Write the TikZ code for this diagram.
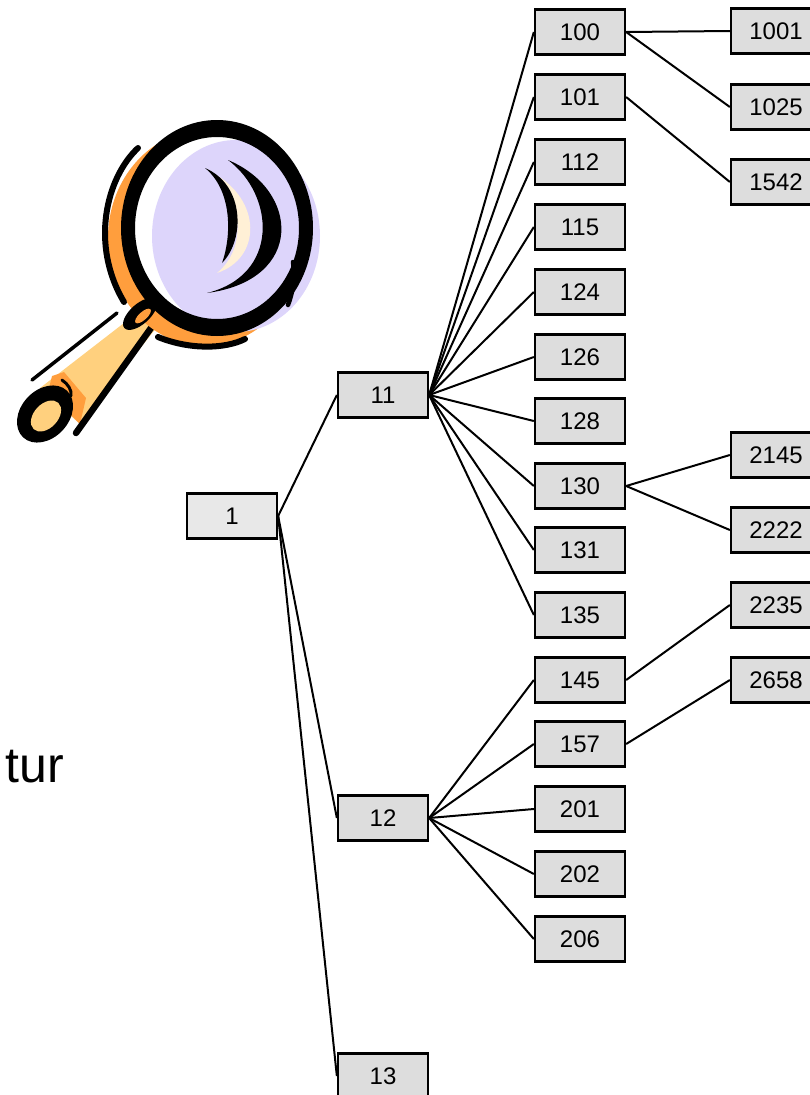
\documentclass[tikz,border=0pt]{standalone}
\usepackage{fontspec}
\setmainfont{Liberation Sans}
\definecolor{boxgray}{HTML}{DDDDDD}
\definecolor{rootgray}{HTML}{E8E8E8}
\definecolor{lens}{HTML}{DDD5FB}
\definecolor{rimorange}{HTML}{FF9E3D}
\definecolor{grip}{HTML}{FFD07E}
\definecolor{shine}{HTML}{FFF0D6}
\begin{document}
\begin{tikzpicture}[x=1pt,y=-1pt,
  box/.style={draw=black, line width=2.3pt, fill=boxgray, minimum width=90pt,
    minimum height=45pt, inner sep=0pt, font=\fontsize{24}{27}\selectfont},
  link/.style={line width=2pt},
  ink/.style={line width=6pt, line cap=round}]
\useasboundingbox (0,0) rectangle (809,1095);

% ---- magnifying glass ----
% handle body
\fill[grip] (146,306) -- (161,322) -- (80,424) -- (40,388) -- cycle;
% darker band near the end of the grip
\fill[rimorange] (52,376) -- (64,372) -- (86,398) -- (80,424) -- (48,392) -- cycle;
\draw[line width=3pt, line cap=round] (62,380) .. controls (68,384) and (72,390) .. (71,396);
% outline strokes of the grip
\draw[line width=6.5pt, line cap=round] (156,321) -- (76,433);
\draw[line width=3.5pt, line cap=round] (117,313) -- (32,380);
% handle end
\fill[black] (45,414) ellipse[x radius=32, y radius=24, rotate=47];
\fill[grip] (46,416) ellipse[x radius=18, y radius=12, rotate=47];
% orange back rim
\fill[rimorange] (205,238) ellipse[x radius=97, y radius=108];
\draw[ink] (138,148) .. controls (106,178) and (90,245) .. (124,302);
\draw[ink] (158,337) .. controls (190,350) and (225,349) .. (245,339);
% glass
\fill[white] (218,227) ellipse[x radius=85, y radius=93];
\fill[lens] (236,236) ellipse[x radius=84, y radius=96];
\fill[black, even odd rule] (217,228) ellipse[x radius=96, y radius=108]
  (217,228) ellipse[x radius=82, y radius=91];
% collar where the grip meets the rim
\fill[black] (140,314) ellipse[x radius=21, y radius=10, rotate=42];
\fill[rimorange] (143,316) ellipse[x radius=10, y radius=4, rotate=42];
% reflections
\fill[shine] (213,173) .. controls (262,200) and (262,258) .. (217,273)
  .. controls (245,250) and (245,205) .. (213,173) -- cycle;
\fill[black] (205,168) .. controls (245,185) and (245,240) .. (222,263)
  .. controls (232,235) and (232,190) .. (205,168) -- cycle;
\fill[black] (228,160) .. controls (300,190) and (305,280) .. (207,293)
  .. controls (280,275) and (275,195) .. (228,160) -- cycle;
\draw[line width=4.5pt, line cap=round] (293,262) .. controls (295,278) and (293,292) .. (288,305);

% ---- heading fragment ----
\node[anchor=base east, inner sep=0pt, font=\fontsize{50}{50}\selectfont] (title) at (64,782) {tur};

% ---- tree ----
\node[box, fill=rootgray] (n1) at (232,516) {1};
\node[box] (n11) at (383,395) {11};
\node[box] (n12) at (383,818) {12};
\node[box] (n13) at (383,1076) {13};

\foreach \lab/\yy in {100/32,101/97,112/162,115/227,124/292,126/357,128/421,
    130/486,131/550,135/615,145/680,157/744,201/809,202/874,206/939}
  \node[box] (n\lab) at (580,\yy) {\lab};

\foreach \lab/\yy in {1001/31,1025/107,1542/182,2145/455,2222/530,2235/605,2658/680}
  \node[box] (n\lab) at (776,\yy) {\lab};

\foreach \c in {11,12,13}
  \draw[link] (n1.east) -- (n\c.west);
\foreach \c in {100,101,112,115,124,126,128,130,131,135}
  \draw[link] (n11.east) -- (n\c.west);
\foreach \c in {145,157,201,202,206}
  \draw[link] (n12.east) -- (n\c.west);
\draw[link] (n100.east) -- (n1001.west);
\draw[link] (n100.east) -- (n1025.west);
\draw[link] (n101.east) -- (n1542.west);
\draw[link] (n130.east) -- (n2145.west);
\draw[link] (n130.east) -- (n2222.west);
\draw[link] (n145.east) -- (n2235.west);
\draw[link] (n157.east) -- (n2658.west);
\end{tikzpicture}
\end{document}
